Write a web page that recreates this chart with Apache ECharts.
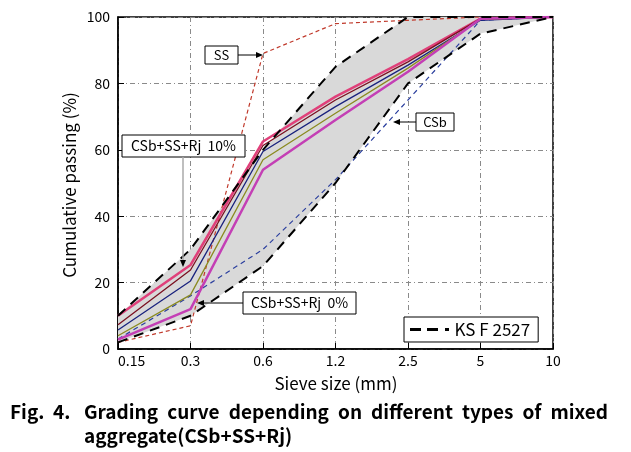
<!DOCTYPE html>
<html><head><meta charset="utf-8">
<script src="https://cdn.jsdelivr.net/npm/echarts@6/dist/echarts.min.js"></script>
<style>html,body{margin:0;padding:0;background:#fff}#c{width:631px;height:452px}</style>
</head><body><div id="c"></div>
<script>
const sieves = ['0.15','0.3','0.6','1.2','2.5','5','10'];
const yTicks = [0,20,40,60,80,100];
const ksUpper = [10,30,60,85,100,100,100];
const ksLower = [2,10,25,50,80,95,100];
const ssData = [2,7,89,98,99,100,100];
const csbData = [3,16,30,51,75,99,100];
const rj10 = [10,25.3,62.5,76,87.3,99.5,100];
const rjB = [7.3,23.8,61.3,75,86.5,99.5,100];
const rjC = [5.7,20.5,59.5,73,85.5,99,100];
const rjD = [4,16.3,57,71,84.6,99.3,100];
const rj0 = [2.8,12,54,69,83.5,99.5,100];
const captionLine1 = ['Grading','curve','depending','on','different','types','of','mixed'];
const captionLine2 = 'aggregate(CSb+SS+Rj)';

const FONT = '"Noto Sans CJK KR", "Noto Sans", sans-serif';
const CAPFONT = 'bold 19px "Noto Sans CJK KR", "Noto Sans", sans-serif';
const chart = echarts.init(document.getElementById('c'));
const band = ksUpper.map((v,i)=>v-ksLower[i]);
function solid(name, data, color, width){
  return {name, type:'line', data, symbol:'none', z:5, lineStyle:{color, width}};
}
// justified caption line
const cv = document.createElement('canvas').getContext('2d');
cv.font = CAPFONT;
const capX0 = 84, capX1 = 608;
const wsum = captionLine1.reduce((s,w)=>s+cv.measureText(w).width,0);
const gap = (capX1-capX0-wsum)/(captionLine1.length-1);
const capGraphics = [];
let cx = capX0;
captionLine1.forEach(w=>{
  capGraphics.push({type:'text',x:cx,y:412,style:{text:w,font:CAPFONT,fill:'#000',textVerticalAlign:'middle'}});
  cx += cv.measureText(w).width + gap;
});
capGraphics.push({type:'text',x:10,y:412,style:{text:'Fig.',font:CAPFONT,fill:'#000',textVerticalAlign:'middle'}});
capGraphics.push({type:'text',x:53,y:412,style:{text:'4.',font:CAPFONT,fill:'#000',textVerticalAlign:'middle'}});
capGraphics.push({type:'text',x:capX0,y:436,style:{text:captionLine2,font:CAPFONT,fill:'#000',textVerticalAlign:'middle'}});

chart.setOption({
  animation:false,
  grid:{left:118,right:78,top:17,bottom:103,show:true,borderColor:'#000',borderWidth:1.5},
  xAxis:{type:'category',data:sieves,boundaryGap:false,
    axisLine:{lineStyle:{color:'#000',width:1.5}},
    axisTick:{inside:true,length:6,lineStyle:{color:'#000'}},
    axisLabel:{color:'#000',fontFamily:FONT,fontSize:14,margin:5,alignMinLabel:'left'},
    splitLine:{show:true,lineStyle:{color:'#8a8a8a',width:1,type:[5,3,1,3]}}},
  yAxis:{type:'value',min:0,max:100,interval:20,
    axisLine:{show:true,lineStyle:{color:'#000',width:1.5}},
    axisTick:{show:true,inside:true,length:6,lineStyle:{color:'#000'}},
    axisLabel:{color:'#000',fontFamily:FONT,fontSize:14,margin:8,
      formatter:v=>yTicks.includes(v)?String(v):''},
    splitLine:{show:true,lineStyle:{color:'#8a8a8a',width:1,type:[5,3,1,3]}}},
  legend:{data:[{name:'KS F 2527',icon:'path://M0,0h11v3h-11z M17,0h11v3h-11z M35,0h4v3h-4z'}],
    left:404,top:317,orient:'vertical',
    backgroundColor:'#fff',borderColor:'#000',borderWidth:1,padding:[4,8,4,6],
    itemWidth:40,itemHeight:3,itemStyle:{color:'#000'},
    textStyle:{color:'#000',fontFamily:FONT,fontSize:17}},
  series:[
    {name:'bandBase',type:'line',data:ksLower,stack:'b',symbol:'none',lineStyle:{opacity:0},z:1,silent:true},
    {name:'band',type:'line',data:band,stack:'b',symbol:'none',lineStyle:{opacity:0},areaStyle:{color:'#d9d9d9',opacity:1},z:1,silent:true},
    {name:'SS',type:'line',data:ssData,symbol:'none',z:4,lineStyle:{color:'#c0392b',width:1.2,type:[4,3]}},
    {name:'CSb',type:'line',data:csbData,symbol:'none',z:4,lineStyle:{color:'#2b3f9e',width:1.2,type:[5,4]}},
    solid('Rj10',rj10,'#e0407a',2.5),
    solid('RjB',rjB,'#7a1020',1.3),
    solid('RjC',rjC,'#1a237e',1.3),
    solid('RjD',rjD,'#8a8a20',1.3),
    solid('Rj0',rj0,'#c43fb5',2.5),
    {name:'KS F 2527',type:'line',data:ksUpper,symbol:'none',z:6,itemStyle:{color:'#000'},lineStyle:{color:'#000',width:2,type:[10,7]}},
    {name:'KS lower',type:'line',data:ksLower,symbol:'none',z:6,lineStyle:{color:'#000',width:2,type:[10,7]}}
  ],
  graphic:[
    {type:'text',x:70,y:185,rotation:Math.PI/2,style:{text:'Cumulative passing (%)',fontFamily:FONT,fontSize:17,fill:'#000',textAlign:'center',textVerticalAlign:'middle'}},
    {type:'text',x:336,y:384,style:{text:'Sieve size (mm)',fontFamily:FONT,fontSize:17,fill:'#000',textAlign:'center',textVerticalAlign:'middle'}},
    // SS label
    {type:'rect',shape:{x:205,y:46,width:33,height:18},style:{fill:'#fff',stroke:'#000',lineWidth:1},z:10},
    {type:'text',x:221.5,y:55,style:{text:'SS',fontFamily:FONT,fontSize:13,fill:'#000',textAlign:'center',textVerticalAlign:'middle'},z:11},
    {type:'line',shape:{x1:238,y1:55,x2:258,y2:55},style:{stroke:'#000',lineWidth:1},z:10},
    {type:'polygon',shape:{points:[[263,55],[256,52],[256,58]]},style:{fill:'#000'},z:10},
    // Rj 10% label
    {type:'rect',shape:{x:122,y:135,width:123,height:22},style:{fill:'#fff',stroke:'#000',lineWidth:1},z:10},
    {type:'text',x:183.5,y:146,style:{text:'CSb+SS+Rj  10%',fontFamily:FONT,fontSize:14,fill:'#000',textAlign:'center',textVerticalAlign:'middle'},z:11},
    {type:'line',shape:{x1:183,y1:157,x2:183,y2:262},style:{stroke:'#aaa',lineWidth:1.5},z:10},
    {type:'polygon',shape:{points:[[183,267],[180,260],[186,260]]},style:{fill:'#000'},z:10},
    // Rj 0% label
    {type:'rect',shape:{x:243,y:292,width:113,height:22},style:{fill:'#fff',stroke:'#000',lineWidth:1},z:10},
    {type:'text',x:299.5,y:303,style:{text:'CSb+SS+Rj  0%',fontFamily:FONT,fontSize:14,fill:'#000',textAlign:'center',textVerticalAlign:'middle'},z:11},
    {type:'line',shape:{x1:243,y1:303,x2:202,y2:303},style:{stroke:'#000',lineWidth:1},z:10},
    {type:'polygon',shape:{points:[[197,303],[204,300],[204,306]]},style:{fill:'#000'},z:10},
    // CSb label
    {type:'rect',shape:{x:416,y:113,width:38,height:18},style:{fill:'#fff',stroke:'#000',lineWidth:1},z:10},
    {type:'text',x:435,y:122,style:{text:'CSb',fontFamily:FONT,fontSize:13,fill:'#000',textAlign:'center',textVerticalAlign:'middle'},z:11},
    {type:'line',shape:{x1:416,y1:122,x2:398,y2:122},style:{stroke:'#000',lineWidth:1},z:10},
    {type:'polygon',shape:{points:[[393,122],[400,119],[400,125]]},style:{fill:'#000'},z:10}
  ].concat(capGraphics)
});
</script></body></html>
